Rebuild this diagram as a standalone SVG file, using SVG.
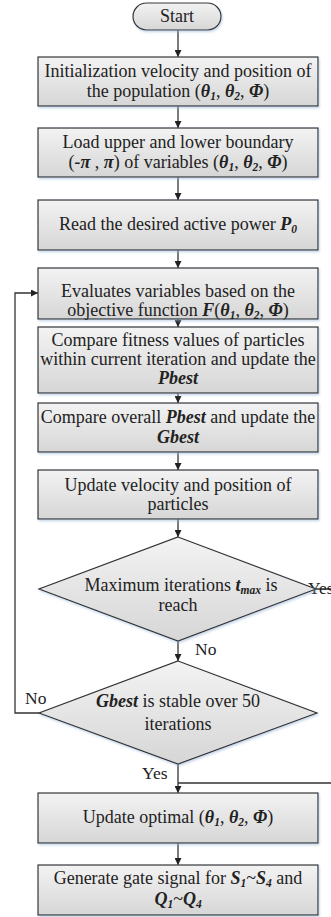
<svg xmlns="http://www.w3.org/2000/svg" width="331" height="917" viewBox="0 0 331 917">
<defs>
<linearGradient id="g" x1="0" y1="0" x2="0" y2="1">
<stop offset="0" stop-color="#f3f3f3"/>
<stop offset="1" stop-color="#d6d6d6"/>
</linearGradient>
<filter id="sh" x="-10%" y="-20%" width="120%" height="140%">
<feDropShadow dx="1" dy="1.5" stdDeviation="1.2" flood-color="#9db8d8" flood-opacity="0.6"/>
</filter>
<marker id="ah" viewBox="0 0 10 10" refX="10" refY="5" markerWidth="7" markerHeight="7" markerUnits="userSpaceOnUse" orient="auto">
<path d="M0,0 L10,5 L0,10 z" fill="#222"/>
</marker>
</defs>
<style>
.n{fill:url(#g);stroke:#333;stroke-width:1.2;filter:url(#sh)}
.t{font-family:"Liberation Serif","Times New Roman",serif;font-size:18px;fill:#222;text-anchor:middle}
.l{font-family:"Liberation Serif","Times New Roman",serif;font-size:17.5px;fill:#222}
.bi{font-weight:bold;font-style:italic}
.sb{font-weight:bold;font-style:italic;font-size:11.5px}
.c{fill:none;stroke:#333;stroke-width:1.3}
</style>
<rect width="331" height="917" fill="#fff"/>

<g id="connectors">
<line class="c" x1="178" y1="30" x2="178" y2="57" marker-end="url(#ah)"/>
<line class="c" x1="178" y1="106" x2="178" y2="128" marker-end="url(#ah)"/>
<line class="c" x1="178" y1="177" x2="178" y2="200" marker-end="url(#ah)"/>
<line class="c" x1="178" y1="250" x2="178" y2="268" marker-end="url(#ah)"/>
<line class="c" x1="178" y1="319" x2="178" y2="327" marker-end="url(#ah)"/>
<line class="c" x1="178" y1="393" x2="178" y2="403" marker-end="url(#ah)"/>
<line class="c" x1="178" y1="452" x2="178" y2="470" marker-end="url(#ah)"/>
<line class="c" x1="178" y1="519" x2="178" y2="537" marker-end="url(#ah)"/>
<line class="c" x1="178" y1="641" x2="178" y2="661" marker-end="url(#ah)"/>
<polyline class="c" points="39,713 15,713 15,293 38,293" marker-end="url(#ah)"/>
<line class="c" x1="178" y1="764" x2="178" y2="793" marker-end="url(#ah)"/>
<polyline class="c" points="316,589 340,589 340,783 178,783"/>
<line class="c" x1="178" y1="843" x2="178" y2="865" marker-end="url(#ah)"/>
<text class="l" x="308" y="594">Yes</text>
<text class="l" x="195" y="655">No</text>
<text class="l" x="25" y="704">No</text>
<text class="l" x="142" y="779">Yes</text>
</g>

<g id="start">
<rect class="n" x="133" y="3" width="88" height="27" rx="13.5"/>
<text class="t" x="177" y="22">Start</text>
</g>

<g id="init">
<rect class="n" x="38" y="57" width="280" height="49"/>
<text class="t" x="178" y="77">Initialization velocity and position of</text>
<text class="t" x="178" y="97">the population (<tspan class="bi">θ</tspan><tspan class="sb" dy="3">1</tspan><tspan dy="-3">, </tspan><tspan class="bi">θ</tspan><tspan class="sb" dy="3">2</tspan><tspan dy="-3">, </tspan><tspan class="bi">Φ</tspan>)</text>
</g>

<g id="bounds">
<rect class="n" x="38" y="128" width="280" height="49"/>
<text class="t" x="178" y="148">Load upper and lower boundary</text>
<text class="t" x="178" y="168">(<tspan class="bi">-π</tspan> , <tspan class="bi">π</tspan>) of variables (<tspan class="bi">θ</tspan><tspan class="sb" dy="3">1</tspan><tspan dy="-3">, </tspan><tspan class="bi">θ</tspan><tspan class="sb" dy="3">2</tspan><tspan dy="-3">, </tspan><tspan class="bi">Φ</tspan>)</text>
</g>

<g id="read">
<rect class="n" x="38" y="200" width="280" height="50"/>
<text class="t" x="178" y="230">Read the desired active power <tspan class="bi">P</tspan><tspan class="sb" dy="3">0</tspan></text>
</g>

<g id="evaluate">
<rect class="n" x="38" y="268" width="280" height="51"/>
<text class="t" x="178" y="297">Evaluates variables based on the</text>
<text class="t" x="178" y="316">objective function <tspan class="bi">F</tspan>(<tspan class="bi">θ</tspan><tspan class="sb" dy="3">1</tspan><tspan dy="-3">, </tspan><tspan class="bi">θ</tspan><tspan class="sb" dy="3">2</tspan><tspan dy="-3">, </tspan><tspan class="bi">Φ</tspan>)</text>
</g>

<g id="pbest">
<rect class="n" x="38" y="327" width="280" height="66"/>
<text class="t" x="178" y="346">Compare fitness values of particles</text>
<text class="t" x="178" y="365">within current iteration and update the</text>
<text class="t" x="178" y="384"><tspan class="bi">Pbest</tspan></text>
</g>

<g id="gbest">
<rect class="n" x="38" y="403" width="280" height="49"/>
<text class="t" x="178" y="423">Compare overall <tspan class="bi">Pbest</tspan> and update the</text>
<text class="t" x="178" y="443"><tspan class="bi">Gbest</tspan></text>
</g>

<g id="update">
<rect class="n" x="38" y="470" width="280" height="49"/>
<text class="t" x="178" y="491">Update velocity and position of</text>
<text class="t" x="178" y="510">particles</text>
</g>

<g id="maxiter">
<polygon class="n" points="178,537 316,589 178,641 39,589"/>
<text class="t" x="181" y="591">Maximum iterations <tspan class="bi">t</tspan><tspan class="sb" dy="3">max</tspan><tspan dy="-3"> is</tspan></text>
<text class="t" x="178" y="611">reach</text>
</g>

<g id="stable">
<polygon class="n" points="178,661 317,713 178,764 39,713"/>
<text class="t" x="178" y="707"><tspan class="bi">Gbest</tspan> is stable over 50</text>
<text class="t" x="178" y="730">iterations</text>
</g>

<g id="optimal">
<rect class="n" x="38" y="793" width="280" height="50"/>
<text class="t" x="178" y="823">Update optimal (<tspan class="bi">θ</tspan><tspan class="sb" dy="3">1</tspan><tspan dy="-3">, </tspan><tspan class="bi">θ</tspan><tspan class="sb" dy="3">2</tspan><tspan dy="-3">, </tspan><tspan class="bi">Φ</tspan>)</text>
</g>

<g id="gate">
<rect class="n" x="38" y="865" width="280" height="50"/>
<text class="t" x="178" y="884">Generate gate signal for <tspan class="bi">S</tspan><tspan class="sb" dy="3">1</tspan><tspan dy="-3">~</tspan><tspan class="bi">S</tspan><tspan class="sb" dy="3">4</tspan><tspan dy="-3"> and</tspan></text>
<text class="t" x="178" y="905"><tspan class="bi">Q</tspan><tspan class="sb" dy="3">1</tspan><tspan dy="-3">~</tspan><tspan class="bi">Q</tspan><tspan class="sb" dy="3">4</tspan></text>
</g>
</svg>
